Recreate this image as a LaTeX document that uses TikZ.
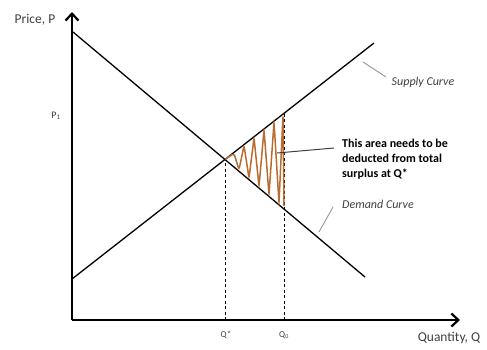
\documentclass[tikz,border=0pt]{standalone}
\usepackage{fontspec}
\setmainfont{Carlito}
\usetikzlibrary{arrows.meta}

\definecolor{labelgray}{RGB}{64,64,64}
\definecolor{leadgray}{RGB}{150,150,150}
\definecolor{zigbrown}{RGB}{184,108,48}

\tikzset{
  axis/.style={line width=2.6pt,-{Straight Barb[length=7pt,width=13pt,line width=2.2pt]}},
  curve/.style={line width=1.3pt},
  guide/.style={line width=1pt,dash pattern=on 3pt off 2.5pt},
  leader/.style={leadgray,line width=0.9pt},
  axislabel/.style={labelgray,font=\fontsize{13.5}{15}\selectfont},
  ticklabel/.style={labelgray,font=\fontsize{9}{10}\selectfont},
  curvelabel/.style={labelgray,font=\fontsize{12}{14}\selectfont\itshape},
  note/.style={font=\fontsize{12}{15}\selectfont\bfseries,align=left,anchor=north west,inner sep=0pt}
}

\begin{document}
\begin{tikzpicture}[x=1pt,y=-1pt]
  \useasboundingbox (0,0) rectangle (487,349);
  % axes
  \coordinate (O) at (72,320);
  \coordinate (ytop) at (72,12);
  \coordinate (xend) at (460,320);
  \draw[axis] (O) -- (ytop);
  \draw[axis] (O) -- (xend);
  \node[axislabel] (plab) at (35,20) {Price, P};
  \node[axislabel] (qlab) at (449,338) {Quantity, Q};
  % supply and demand
  \coordinate (s0) at (72,279);
  \coordinate (s1) at (374,43);
  \coordinate (d0) at (73,32);
  \coordinate (d1) at (365,277);
  \draw[curve] (s0) -- (s1);
  \draw[curve] (d0) -- (d1);
  \coordinate (eq) at (225.3,159.2);
  \coordinate (q0top) at (284,114.1);
  \coordinate (qstar) at (225.3,320);
  \coordinate (qnull) at (284,320);
  \draw[guide] (qstar) -- (eq);
  \draw[guide] (qnull) -- (q0top);
  \node[ticklabel] (qs) at (226,335) {Q*};
  \node[ticklabel] (q0) at (284,335) {Q\textsubscript{0}};
  \node[ticklabel,font=\fontsize{10}{11}\selectfont] (p1) at (56,116) {P\textsubscript{1}};
  % deadweight area
  \draw[zigbrown,line width=1.5pt,rounded corners=2.5pt] (eq)
    \foreach \x in {234,244,...,274}
    {-- (\x,{279-0.7815*(\x-72)+1}) -- ({\x+5},{32+0.8356*(\x+5-73)-1})}
    -- (283,{279-0.7815*(283-72)+1}) -- (284,206);
  % labels
  \node[curvelabel] (slab) at (423,82) {Supply Curve};
  \node[curvelabel] (dlab) at (378,204) {Demand Curve};
  \coordinate (sl0) at (363,62);
  \coordinate (sl1) at (386,77);
  \coordinate (dl0) at (333,207);
  \coordinate (dl1) at (319,232);
  \draw[leader] (sl0) -- (sl1);
  \draw[leader] (dl0) -- (dl1);
  \node[note] (area) at (342,139) {This area needs to be\\deducted from total\\surplus at Q*};
  \coordinate (lead) at (334,148);
  \coordinate (tip) at (277,153);
  \draw[labelgray,line width=1pt] (lead) -- (tip);
\end{tikzpicture}
\end{document}
